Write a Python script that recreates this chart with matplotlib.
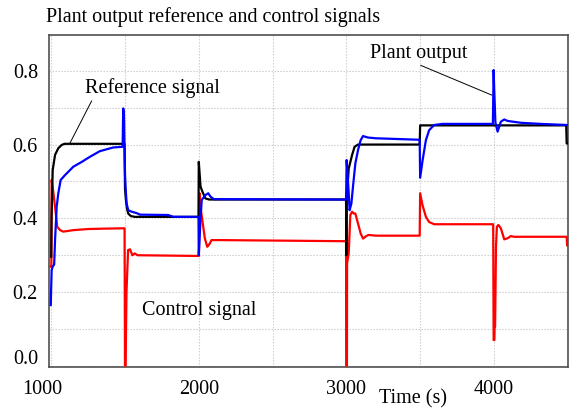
import matplotlib
matplotlib.use("Agg")
import matplotlib.pyplot as plt
import matplotlib.transforms as mtransforms
import numpy as np

# ---------------- data ----------------
t_ref = [1000, 1002, 1010, 1026, 1048, 1071, 1090, 1497, 1500, 1506, 1514, 1522,
         1540, 1568, 1998, 2000, 2012, 2025, 2045, 2070, 2998, 3000, 3002, 3016,
         3039, 3056, 3079, 3497, 3500, 4490, 4493, 4500]
v_ref = [0.296, 0.40, 0.531, 0.572, 0.59, 0.599, 0.602, 0.602, 0.48, 0.45, 0.425, 0.413,
         0.406, 0.404, 0.404, 0.553, 0.486, 0.472, 0.454, 0.451, 0.451, 0.30, 0.45, 0.535,
         0.572, 0.594, 0.60, 0.60, 0.652, 0.652, 0.603, 0.603]

t_out = [997, 999, 1003, 1010, 1020, 1026, 1037, 1048, 1064, 1093, 1150, 1207, 1263,
         1329, 1419, 1484, 1488, 1493, 1500, 1505, 1511, 1522, 1545, 1580, 1602, 1793,
         1827, 1998, 2000, 2005, 2012, 2020, 2045, 2064, 2079, 2102, 2998, 3002, 3008,
         3016, 3022, 3034, 3045, 3061, 3079, 3097, 3113, 3147, 3200, 3497, 3500, 3517,
         3539, 3561, 3595, 3650, 3993, 3998, 4002, 4010, 4025, 4047, 4070, 4093, 4183,
         4319, 4495]
v_out = [0.165, 0.20, 0.26, 0.269, 0.275, 0.341, 0.431, 0.468, 0.504, 0.517, 0.54, 0.553,
         0.567, 0.582, 0.592, 0.594, 0.698, 0.68, 0.52, 0.477, 0.44, 0.422, 0.418, 0.414,
         0.41, 0.409, 0.404, 0.404, 0.30, 0.341, 0.40, 0.45, 0.463, 0.468, 0.459, 0.452,
         0.451, 0.558, 0.52, 0.468, 0.422, 0.44, 0.486, 0.549, 0.585, 0.612, 0.623, 0.619,
         0.617, 0.613, 0.51, 0.558, 0.612, 0.639, 0.653, 0.656, 0.656, 0.802, 0.75, 0.66,
         0.635, 0.662, 0.668, 0.664, 0.659, 0.656, 0.653]

t_ctl = [995, 1001, 1003, 1008, 1014, 1026, 1041, 1060, 1082, 1150, 1250, 1350, 1497,
         1500, 1504, 1510, 1521, 1534, 1550, 1566, 1584, 1998, 2001, 2005, 2012, 2027,
         2041, 2057, 2064, 2075, 2086, 2150, 2998, 3000, 3004, 3005, 3016, 3027, 3039,
         3050, 3061, 3079, 3097, 3113, 3135, 3150, 3200, 3497, 3500, 3516, 3539, 3561,
         3595, 3995, 3998, 4003, 4005, 4008, 4014, 4020, 4030, 4047, 4070, 4093, 4115,
         4137, 4493, 4496]
v_ctl = [0.269, 0.27, 0.504, 0.49, 0.472, 0.431, 0.377, 0.368, 0.364, 0.368, 0.371, 0.372, 0.373,
         0.0, 0.0, 0.2, 0.314, 0.316, 0.30, 0.305, 0.30, 0.298, 0.298, 0.468, 0.43, 0.386,
         0.346, 0.323, 0.326, 0.332, 0.341, 0.341, 0.338, 0.0, 0.0, 0.278, 0.305, 0.409, 0.418,
         0.413, 0.413, 0.386, 0.359, 0.345, 0.352, 0.355, 0.353, 0.353, 0.468, 0.436, 0.404, 0.39,
         0.384, 0.384, 0.07, 0.07, 0.106, 0.106, 0.323, 0.377, 0.382, 0.373, 0.343, 0.346, 0.352,
         0.35, 0.35, 0.327]

x_ticks = [1000, 2000, 3000, 4000]
y_ticks = [0.0, 0.2, 0.4, 0.6, 0.8]
title = "Plant output reference and control signals"

# ---------------- figure ----------------
FONT = "Liberation Serif"
plt.rcParams["font.family"] = [FONT, "DejaVu Serif"]
FS = 14.5
W, H = 570, 412
fig = plt.figure(figsize=(W / 100, H / 100), dpi=100)
ax = fig.add_axes([49 / W, 1 - 367 / H, (568 - 49) / W, (367 - 35) / H])

ax.plot(t_ctl, v_ctl, color="#ff0000", lw=1.6, zorder=3)
ax.plot(t_ref, v_ref, color="#000000", lw=1.6, zorder=4)
ax.plot(t_out, v_out, color="#0000ff", lw=1.6, zorder=5)

ax.set_xlim(985, 4502)
ax.set_ylim(-0.003, 0.897)

ax.set_xticks(x_ticks, minor=False)
ax.set_xticks(np.arange(1500, 4501, 1000), minor=True)
ax.set_yticks(y_ticks)
ax.set_yticks(np.arange(0.1, 0.85, 0.2), minor=True)
ax.set_xticklabels([str(v) for v in x_ticks])
ax.set_yticklabels(["%.1f" % v for v in y_ticks])
ax.tick_params(which="both", length=0, labelsize=FS)
ax.tick_params(axis="x", pad=9)
ax.tick_params(axis="y", pad=8)
ax.grid(True, which="both", color="#c8c8c8", linestyle=(0, (1.2, 1.5)), lw=0.8)

for s in ax.spines.values():
    s.set_color("#505050")
    s.set_linewidth(1.2)

# shift first labels like in the reference
xl = ax.get_xticklabels()
xl[0].set_transform(xl[0].get_transform() + mtransforms.ScaledTranslation(-9 / 100, 0, fig.dpi_scale_trans))
yl = ax.get_yticklabels()
yl[0].set_transform(yl[0].get_transform() + mtransforms.ScaledTranslation(0, 9 / 100, fig.dpi_scale_trans))

fig.text(46 / W, 1 - 17 / H, title, fontsize=FS, ha="left", va="center")
ax.text(3449, -0.09, "Time (s)", fontsize=FS, ha="center", va="center", clip_on=False)

ax.annotate("Reference signal", xy=(1127, 0.604), xytext=(1686, 0.753), fontsize=FS,
            ha="center", va="center",
            arrowprops=dict(arrowstyle="-", color="black", lw=0.7, shrinkA=0, shrinkB=0,
                            relpos=(0.06, 0.0)))
ax.annotate("Plant output", xy=(3986, 0.734), xytext=(3492, 0.848), fontsize=FS,
            ha="center", va="center",
            arrowprops=dict(arrowstyle="-", color="black", lw=0.7, shrinkA=0, shrinkB=0,
                            relpos=(0.45, 0.0)))
ax.text(2005, 0.151, "Control signal", fontsize=FS, ha="center", va="center")

fig.savefig("out.png", dpi=100)
